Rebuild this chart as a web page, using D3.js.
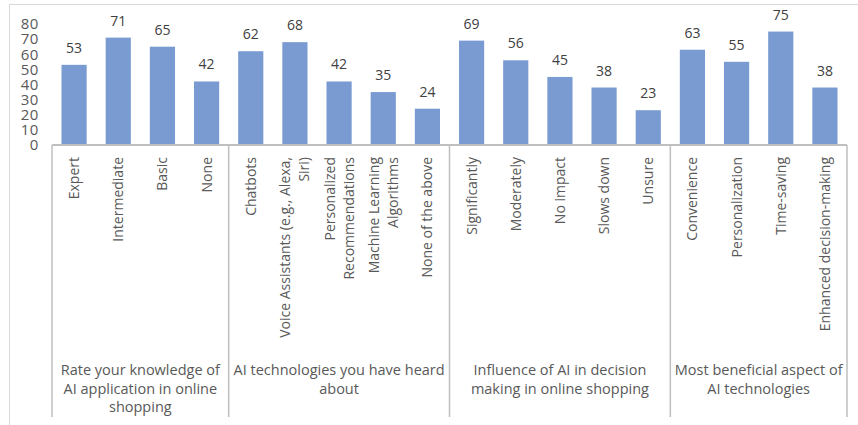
<!DOCTYPE html>
<html><head><meta charset="utf-8">
<script src="https://cdn.jsdelivr.net/npm/d3@7"></script>
<style>body{margin:0;background:#fff}svg{display:block}text{font-family:"Open Sans",sans-serif}</style>
</head><body>
<svg id="c" width="858" height="425"></svg>
<script>
const groupNames = [
  ["Rate your knowledge of","AI application in online","shopping"],
  ["AI technologies you have heard","about"],
  ["Influence of AI in decision","making in online shopping"],
  ["Most beneficial aspect of","AI technologies"]
];
const categories = [
  ["Expert"],["Intermediate"],["Basic"],["None"],
  ["Chatbots"],["Voice Assistants (e.g., Alexa,","Siri)"],["Personalized","Recommendations"],["Machine Learning","Algorithms"],["None of the above"],
  ["Significantly"],["Moderately"],["No impact"],["Slows down"],["Unsure"],
  ["Convenience"],["Personalization"],["Time-saving"],["Enhanced decision-making"]
];
const groupIndex = [0,0,0,0,1,1,1,1,1,2,2,2,2,2,3,3,3,3];
const values = [53,71,65,42,62,68,42,35,24,69,56,45,38,23,63,55,75,38];
const yTicks = [0,10,20,30,40,50,60,70,80];

const svg = d3.select("#c");
const left = 52, right = 847, y0 = 145, yTop = 24;
svg.append("rect").attr("x",9.5).attr("y",4.5).attr("width",860).attr("height",430)
  .attr("fill","none").attr("stroke","#d9d9d9").attr("stroke-width",1);

const x = d3.scaleBand().domain(d3.range(categories.length)).range([left,right]).paddingInner(0.43).paddingOuter(0.215);
const y = d3.scaleLinear().domain([0,80]).range([y0,yTop]);

// y axis labels
const ya = svg.append("g").attr("transform",`translate(${left},0)`)
  .call(d3.axisLeft(y).tickValues(yTicks).tickSize(0).tickPadding(13));
ya.select(".domain").remove();
ya.selectAll("text").attr("font-size",15).attr("letter-spacing",0.6).attr("fill","#595959").attr("font-family","Open Sans");

// bars
svg.append("g").selectAll("rect").data(values).join("rect")
  .attr("x",(d,i)=>x(i)).attr("width",x.bandwidth())
  .attr("y",d=>y(d)).attr("height",d=>y0-y(d)).attr("fill","#7a9bd2");

// data labels
svg.append("g").selectAll("text").data(values).join("text")
  .attr("x",(d,i)=>x(i)+x.bandwidth()/2).attr("y",d=>y(d)-12)
  .attr("text-anchor","middle").attr("font-size",14).attr("fill","#404040").text(d=>d);

// axis line
const step = x.step();
svg.append("line").attr("x1",left).attr("x2",right).attr("y1",y0).attr("y2",y0)
  .attr("stroke","#bfbfbf").attr("stroke-width",2);

// group boundaries
const bounds = [0];
groupIndex.forEach((g,i)=>{ if(i>0 && g!==groupIndex[i-1]) bounds.push(i); });
bounds.push(categories.length);
const bx = i => left + i*step;
svg.append("g").selectAll("line").data(bounds).join("line")
  .attr("x1",d=>bx(d)).attr("x2",d=>bx(d)).attr("y1",y0).attr("y2",417)
  .attr("stroke","#bfbfbf").attr("stroke-width",1.5);

// category labels (rotated)
const lh = 19;
const cg = svg.append("g");
categories.forEach((lines,i)=>{
  const cx = x(i)+x.bandwidth()/2;
  const n = lines.length;
  lines.forEach((ln,k)=>{
    const off = (k-(n-1)/2)*lh;
    cg.append("text").attr("transform",`translate(${cx+off+5},157) rotate(-90)`)
      .attr("text-anchor","end").attr("font-size",14).attr("fill","#595959").text(ln);
  });
});

// group labels
const gg = svg.append("g");
groupNames.forEach((lines,g)=>{
  const cx = (bx(bounds[g])+bx(bounds[g+1]))/2;
  lines.forEach((ln,k)=>{
    gg.append("text").attr("x",cx).attr("y",375+k*18.5).attr("text-anchor","middle")
      .attr("font-size",14.5).attr("fill","#595959").text(ln);
  });
});
</script>
</body></html>
